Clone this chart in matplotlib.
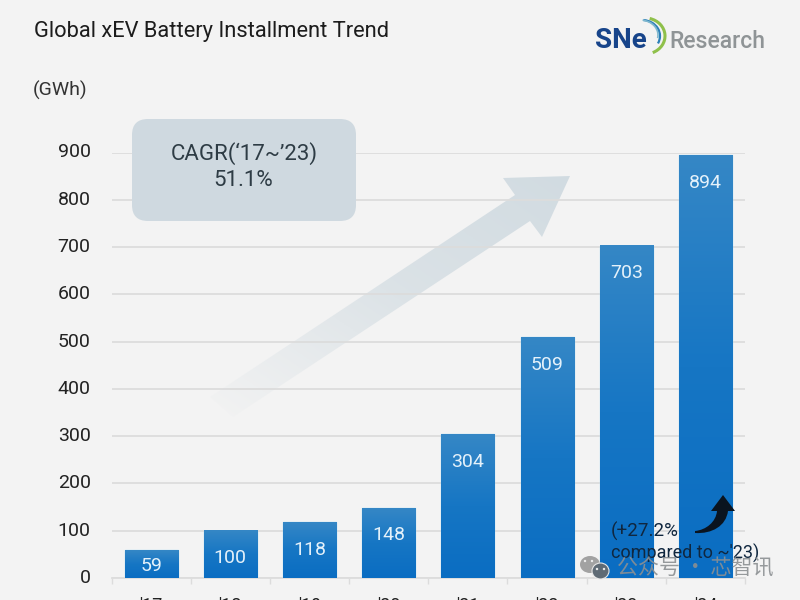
import numpy as np
import matplotlib
matplotlib.use("Agg")
import matplotlib.pyplot as plt
from matplotlib.colors import LinearSegmentedColormap
from matplotlib.patches import Arc, Circle, Ellipse, FancyBboxPatch, PathPatch, Polygon
from matplotlib.path import Path
from matplotlib.transforms import ScaledTranslation

plt.rcParams["font.family"] = ["Roboto", "Noto Sans CJK SC", "DejaVu Sans"]

years = ["'17", "'18", "'19", "'20", "'21", "'22", "'23", "'24"]
gwh = [59, 100, 118, 148, 304, 509, 703, 894]
y_ticks = [0, 100, 200, 300, 400, 500, 600, 700, 800, 900]

BG = "#f3f3f3"
GRID = "#dcdcdc"
TEXT = "#222222"

fig = plt.figure(figsize=(8, 6), dpi=100, facecolor=BG)

# layer behind the chart, the trend arrow goes under the gridlines
back = fig.add_axes([0, 0, 1, 1], facecolor="none", zorder=-1)
back.axis("off")

ax = fig.add_axes([111.5 / 800, 1 - 578 / 600, 633.5 / 800, 425.5 / 600], facecolor="none", zorder=1)
ax.set_yticks(y_ticks)
ax.set_xticks(range(len(years)))
ax.set_xticklabels(years)
ax.set_xticks(np.arange(-0.5, 8), minor=True)
ax.tick_params(axis="y", length=0, pad=15, labelsize=14, labelcolor=TEXT)
ax.tick_params(axis="x", which="major", length=0, pad=14, labelsize=13, labelcolor=TEXT)
ax.tick_params(axis="x", which="minor", length=4, width=1, color=GRID)
ax.grid(axis="y", color=GRID, linewidth=1.3)
ax.set_axisbelow(True)
for name in ["top", "right", "left"]:
    ax.spines[name].set_visible(False)
ax.spines["bottom"].set_color(GRID)
ax.spines["bottom"].set_linewidth(1.3)

# y labels sit a little above their gridlines in the reference
for lab in ax.get_yticklabels():
    lab.set_transform(lab.get_transform() + ScaledTranslation(0, 1.5 / 72, fig.dpi_scale_trans))

# bars with a vertical gradient, light at the top, pale halo from the edge underneath
bar_cmap = LinearSegmentedColormap.from_list("bar", ["#0a6dc2", "#1676c4", "#3587c6"])
grad = np.linspace(0, 1, 256).reshape(-1, 1)
bars = ax.bar(range(len(years)), gwh, width=0.67, facecolor="#2a80c6", edgecolor="#a9daf6", linewidth=1.0, zorder=2)
for bar, val in zip(bars, gwh):
    x0 = bar.get_x()
    ax.imshow(grad, cmap=bar_cmap, origin="lower", aspect="auto", zorder=3,
              extent=(x0, x0 + bar.get_width(), 0, val))
    ax.text(x0 + bar.get_width() / 2, val - 58 if val > 70 else val / 2 - 4, str(val),
            ha="center", va="center", color="#e4f1fa", fontsize=14, zorder=5)
ax.set_xlim(-0.5, 7.5)
ax.set_ylim(0, 900)

# big faded trend arrow
arrow_pts = [(210, 397), (515, 195), (503, 178), (570, 176), (542, 237), (530, 221), (233, 417)]
c = (0.82, 0.86, 0.885)
arrow_cmap = LinearSegmentedColormap.from_list(
    "trend", [(0.0, (*c, 0.0)), (0.2, (*c, 0.25)), (0.55, (*c, 0.72)), (1.0, (*c, 1.0))])
xx, yy = np.meshgrid(np.linspace(0, 1, 200), np.linspace(0, 1, 200))
arrow_im = back.imshow((xx + 1 - yy) / 2, cmap=arrow_cmap, vmin=0, vmax=1, origin="upper", aspect="auto",
                       extent=(205, 570, 420, 176))
arrow_poly = Polygon(arrow_pts, closed=True, facecolor="none", edgecolor="none")
back.add_patch(arrow_poly)
arrow_im.set_clip_path(arrow_poly)
back.set_xlim(0, 800)
back.set_ylim(600, 0)

# overlay in pixel coordinates for the notes around the chart
over = fig.add_axes([0, 0, 1, 1], facecolor="none", zorder=2)
over.set_xlim(0, 800)
over.set_ylim(600, 0)
over.axis("off")

over.text(34, 31, "Global xEV Battery Installment Trend", fontsize=15.75,
          color="#1c1c1c", va="center", ha="left")
over.text(33, 90, "(GWh)", fontsize=14, color="#333333", va="center", ha="left")

# CAGR box
box = FancyBboxPatch((132, 119), 224, 102, boxstyle="round,pad=0,rounding_size=16",
                     facecolor="#cfd9e0", edgecolor="none", zorder=6)
over.add_patch(box)
over.text(244, 154, "CAGR(‘17~’23)", fontsize=16, color="#2e3c45", ha="center", va="center", zorder=7)
over.text(243, 181, "51.1%", fontsize=16, color="#2e3c45", ha="center", va="center", zorder=7)

# SNE logo
over.text(595, 40, "SNe", fontsize=20, fontweight="bold", color="#17448a", va="center", ha="left", zorder=7)
over.text(669, 41, "Research", fontsize=16.6, fontweight="medium", color="#8f9496", va="center", ha="left", zorder=7)
over.add_patch(Arc((645, 36), 40, 36, theta1=-75, theta2=65, color="#8fc04a", linewidth=2.2, zorder=7))
over.add_patch(Arc((642, 36), 36, 32, theta1=-85, theta2=25, color="#2b7fb8", linewidth=1.6, zorder=7))
over.add_patch(Arc((640, 35), 36, 30, theta1=-80, theta2=10, color="#7fb8cf", linewidth=1.2, zorder=7))

# +27.2% note with curved arrow
note = "#10273f"
over.text(611, 531, "(+27.2%", fontsize=13.5, color=note, va="center", ha="left", zorder=8)
over.text(611, 553, "compared to ~'23)", fontsize=13, color=note, va="center", ha="left", zorder=8)
curve = Path([(723, 495), (735, 511), (728, 511), (726, 526), (712, 534), (695, 533),
              (695, 531), (706, 530), (716, 522), (717, 511), (711, 511), (723, 495)],
             [Path.MOVETO, Path.LINETO, Path.LINETO, Path.CURVE4, Path.CURVE4, Path.CURVE4,
              Path.LINETO, Path.CURVE4, Path.CURVE4, Path.CURVE4, Path.LINETO, Path.CLOSEPOLY])
over.add_patch(PathPatch(curve, facecolor="#0a1420", edgecolor="none", zorder=8))

# watermark
wm = "#8b8f92"
over.add_patch(Ellipse((590, 564.5), 20, 17, facecolor="#a2a2a2", edgecolor="none", zorder=9))
over.add_patch(Ellipse((600.5, 571), 17, 16, facecolor="#5f6b75", edgecolor="#e8e8e8", linewidth=0.8, zorder=9))
for ex, ey in [(585, 561), (592, 561), (597, 569), (604, 569)]:
    over.add_patch(Circle((ex, ey), 1.2, facecolor="#ececec", edgecolor="none", zorder=10))
over.text(617, 569, "公众号 · 芯智讯", family=["Noto Sans CJK SC", "DejaVu Sans"], fontsize=15.1, color=wm,
          alpha=0.9, va="center", ha="left", zorder=9)

fig.savefig("out.png", dpi=100, facecolor=BG)
